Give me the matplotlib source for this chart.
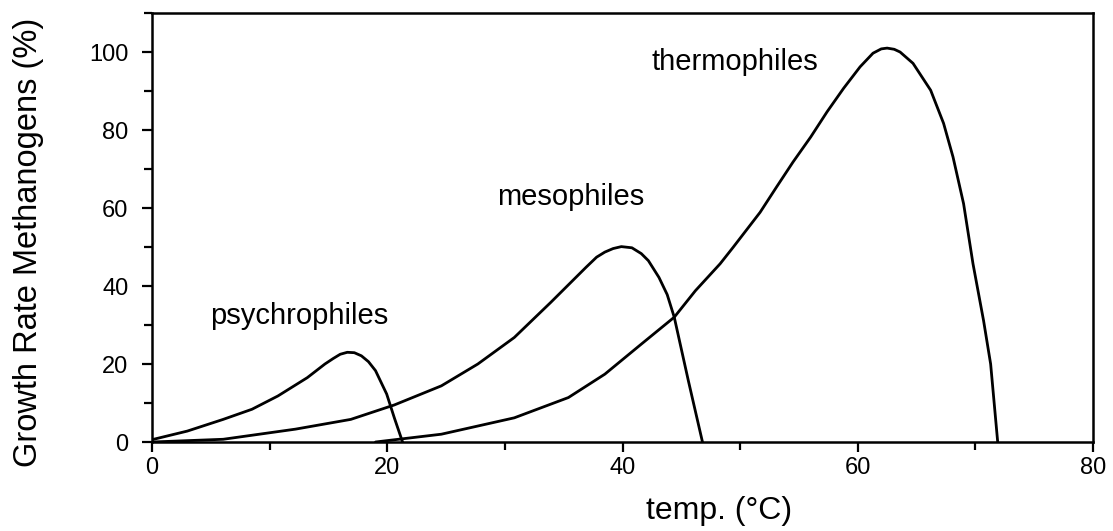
import matplotlib
matplotlib.use("Agg")
import matplotlib.pyplot as plt
from matplotlib.ticker import MultipleLocator

plt.rcParams['font.family'] = ['Liberation Sans', 'DejaVu Sans']

# psychrophiles
psy_x = [0, 3.0, 6.05, 8.5, 10.7, 13.2, 14.7, 15.4, 16.0, 16.6, 17.2, 17.8, 18.4,
         19.0, 19.95, 20.6, 21.3]
psy_y = [0.6, 2.8, 5.8, 8.4, 11.8, 16.5, 20.0, 21.4, 22.5, 23.0, 22.9, 22.1, 20.6,
         18.3, 12.3, 6.2, 0]

# mesophiles
mes_x = [0, 6.05, 12.2, 16.9, 20.6, 24.6, 27.7, 30.8, 33.9, 36.9, 37.8, 38.5, 39.2,
         39.9, 40.8, 41.6, 42.2, 43.1, 43.8, 44.4, 45.6, 46.8]
mes_y = [0, 0.7, 3.3, 5.8, 9.5, 14.4, 20.0, 26.8, 35.8, 44.8, 47.4, 48.7, 49.6,
         50.1, 49.8, 48.3, 46.5, 42.2, 37.8, 32.0, 15.7, 0]

# thermophiles
the_x = [19.0, 24.6, 30.8, 35.4, 38.5, 41.6, 44.4, 46.2, 48.3, 49.4, 51.7, 53.1,
         54.5, 56.0, 57.4, 58.8, 60.2, 61.3, 62.0, 62.5, 63.1, 63.6, 64.7, 66.2,
         67.3, 68.1, 69.0, 69.8, 70.7, 71.3, 71.9]
the_y = [0, 2.0, 6.2, 11.4, 17.4, 25.1, 32.0, 38.8, 45.7, 49.9, 58.9, 65.4,
         71.8, 78.2, 84.7, 90.7, 96.2, 99.7, 100.8, 101.0, 100.7, 100.0, 97.1, 90.2,
         81.7, 73.1, 61.1, 45.7, 31.1, 20.0, 0]

labels = ["psychrophiles", "mesophiles", "thermophiles"]
label_x = [4.9, 29.3, 42.5]
label_y = [30.3, 60.7, 95.4]

x_ticks = [0, 20, 40, 60, 80]
y_ticks = [0, 20, 40, 60, 80, 100]

fig = plt.figure(figsize=(11.13, 5.31), dpi=100)
ax = fig.add_axes([0.1366, 0.1676, 0.8454, 0.8079])

lw = 2.0
for xs, ys in [(psy_x, psy_y), (mes_x, mes_y), (the_x, the_y)]:
    ax.plot(xs, ys, color='black', lw=lw, solid_joinstyle='round',
            solid_capstyle='round')

for t, x, y in zip(labels, label_x, label_y):
    ax.text(x, y, t, fontsize=21, ha='left', va='baseline')

ax.set_xlim(0, 80)
ax.set_ylim(0, 110)
ax.set_xticks(x_ticks)
ax.set_yticks(y_ticks)
ax.xaxis.set_minor_locator(MultipleLocator(10))
ax.yaxis.set_minor_locator(MultipleLocator(10))
ax.tick_params(which='major', direction='out', length=7, width=1.6, labelsize=17)
ax.tick_params(axis='y', which='major', pad=10)
ax.tick_params(axis='x', which='major', pad=4)
ax.tick_params(which='minor', direction='out', length=6, width=1.6)
for s in ax.spines.values():
    s.set_linewidth(1.8)

fig.text(29/1113, 1 - 242/531, "Growth Rate Methanogens (%)", rotation=90,
         ha='center', va='center', fontsize=23.5)
fig.text(719/1113, 1 - 511/531, "temp. (°C)", ha='center', va='center', fontsize=23)

fig.savefig("out.png", dpi=100)
